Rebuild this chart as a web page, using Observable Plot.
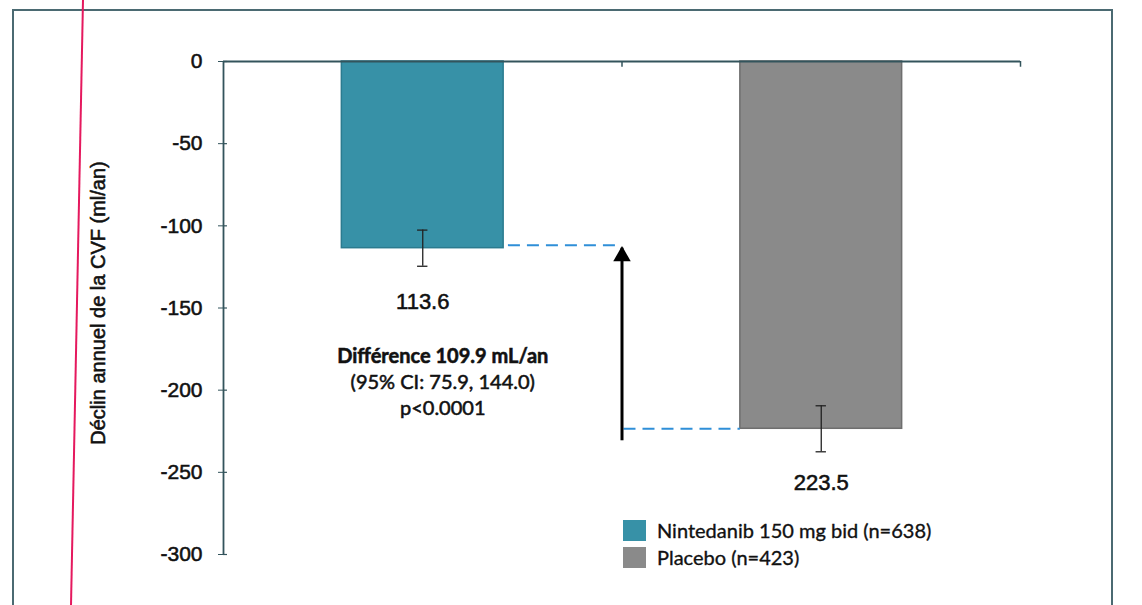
<!DOCTYPE html>
<html>
<head>
<meta charset="utf-8">
<script src="https://cdn.jsdelivr.net/npm/d3@7"></script>
<script src="https://cdn.jsdelivr.net/npm/@observablehq/plot@0.6"></script>
<style>
  html, body { margin: 0; padding: 0; background: #fff; overflow: hidden; }
  #wrap { position: relative; width: 1142px; height: 605px; overflow: hidden; }
  #frame { position: absolute; left: 12px; top: 9px; width: 1101px; height: 700px;
           border: 2.5px solid #4b6a72; box-sizing: border-box; }
  #chart { position: absolute; left: 0; top: 0; }
  #chart svg text { paint-order: stroke; stroke: #111; stroke-width: 0.55px; }
  #legend { position: absolute; left: 623px; top: 517px; font-family: Lato, "Open Sans", sans-serif;
            font-size: 20px; color: #111; line-height: 27px; -webkit-text-stroke: 0.35px #111; }
  #legend .row { display: flex; align-items: center; height: 27px; }
  #legend .sw { width: 23px; height: 21px; margin-right: 11px; }
  #redline { position: absolute; left: 0; top: 0; }
</style>
</head>
<body>
<div id="wrap">
  <div id="frame"></div>
  <div id="chart"></div>
  <div id="legend"></div>
  <svg id="redline" width="1142" height="605"><line x1="83" y1="0" x2="71" y2="605" stroke="#e5195e" stroke-width="2"/></svg>
</div>
<script>
// ---- data ----
const categories = ["Nintedanib 150 mg bid (n=638)", "Placebo (n=423)"];
const positions = [0.5, 1.5];
const declines = [-113.6, -223.5];
const errors = [11, 14];
const colors = ["#3791a7", "#8a8a8a"];
const strokes = ["#2b7b8f", "#6e6e6e"];
const yTicks = [0, -50, -100, -150, -200, -250, -300];
const xBoundaries = [0, 1, 2];
const yLabel = "Déclin annuel de la CVF (ml/an)";
const diffTitle = "Différence 109.9 mL/an";
const diffDetails = ["(95% CI: 75.9, 144.0)", "p<0.0001"];

const data = categories.map((c, i) => ({
  name: c, pos: positions[i], value: declines[i], err: errors[i], fill: colors[i], stroke: strokes[i]
}));
const halfWidth = 0.203;
const capHalf = 0.013;
const axisColor = "#33545c";
const arrowX = 1;

const plot = Plot.plot({
  width: 1142,
  height: 605,
  marginLeft: 223,
  marginRight: 122,
  marginTop: 61,
  marginBottom: 51,
  style: { fontFamily: "'Liberation Sans', Arial, sans-serif", background: "transparent" },
  x: { domain: [0, 2], axis: null },
  y: { domain: [-300, 0], axis: null },
  marks: [
    // bars
    Plot.rectY(data, {
      x1: d => d.pos - halfWidth, x2: d => d.pos + halfWidth, y: "value",
      fill: d => d.fill, stroke: d => d.stroke, strokeWidth: 1.5
    }),
    // dashed connector lines
    Plot.ruleY([data[0]], {
      x1: d => d.pos + halfWidth + 0.012, x2: arrowX - 0.01, y: "value", dy: -3,
      stroke: "#2f8fd8", strokeWidth: 2, strokeDasharray: "12,7"
    }),
    Plot.ruleY([data[1]], {
      x1: arrowX + 0.005, x2: d => d.pos - halfWidth, y: "value",
      stroke: "#2f8fd8", strokeWidth: 2, strokeDasharray: "12,7"
    }),
    // difference arrow
    Plot.ruleX([0], {
      x: () => arrowX, y1: () => declines[1], y2: () => declines[0], insetTop: 12,
      stroke: "#000", strokeWidth: 3
    }),
    Plot.dot([0], {
      x: () => arrowX, y: () => declines[0], dy: 8, symbol: "triangle", r: 6.5,
      fill: "#000", stroke: "none"
    }),
    // error bars
    Plot.ruleX(data, {
      x: "pos", y1: d => d.value - d.err, y2: d => d.value + d.err, stroke: "#222", strokeWidth: 1.3
    }),
    Plot.ruleY(data, {
      x1: d => d.pos - capHalf, x2: d => d.pos + capHalf, y: d => d.value - d.err, stroke: "#222", strokeWidth: 1.3
    }),
    Plot.ruleY(data, {
      x1: d => d.pos - capHalf, x2: d => d.pos + capHalf, y: d => d.value + d.err, stroke: "#222", strokeWidth: 1.3
    }),
    // axes
    Plot.ruleX([0], { y1: 0, y2: -300, stroke: axisColor, strokeWidth: 1.8 }),
    Plot.ruleY([0], { x1: 0, x2: 2, stroke: axisColor, strokeWidth: 1.8 }),
    Plot.ruleX(xBoundaries.slice(1), { y1: 0, y2: -3.5, stroke: axisColor, strokeWidth: 1.5 }),
    Plot.axisY({
      ticks: yTicks, tickSize: 5, tickPadding: 16, tickFormat: d => String(d),
      fontSize: 21, stroke: axisColor, color: "#111", label: null
    }),
    Plot.ruleY(yTicks, { x1: 0, x2: 0.01, stroke: axisColor, strokeWidth: 1.2 }),
    Plot.text([yLabel], {
      frameAnchor: "left", textAnchor: "middle", dx: -125, dy: -5, rotate: -90, fontSize: 20, fill: "#111"
    }),
    // value labels
    Plot.text(data, {
      x: "pos", y: "value", dy: 54, text: d => Math.abs(d.value).toFixed(1),
      fontSize: 22, fill: "#111"
    }),
    // difference annotation
    Plot.text([diffTitle], {
      x: () => positions[0], y: () => declines[0], dx: 20, dy: 108,
      fontFamily: "Lato, 'Open Sans', sans-serif", fontWeight: "bold", fontSize: 20, fill: "#111"
    }),
    Plot.text([diffDetails.join("\n")], {
      x: () => positions[0], y: () => declines[0], dx: 20, dy: 122, lineAnchor: "top", lineHeight: 1.3,
      fontFamily: "Lato, 'Open Sans', sans-serif", fontSize: 20, fill: "#111"
    })
  ]
});
document.getElementById("chart").appendChild(plot);

// legend
const legend = document.getElementById("legend");
data.forEach(d => {
  const row = document.createElement("div");
  row.className = "row";
  const sw = document.createElement("div");
  sw.className = "sw";
  sw.style.background = d.fill;
  const lab = document.createElement("span");
  lab.textContent = d.name;
  row.appendChild(sw);
  row.appendChild(lab);
  legend.appendChild(row);
});
</script>
</body>
</html>
